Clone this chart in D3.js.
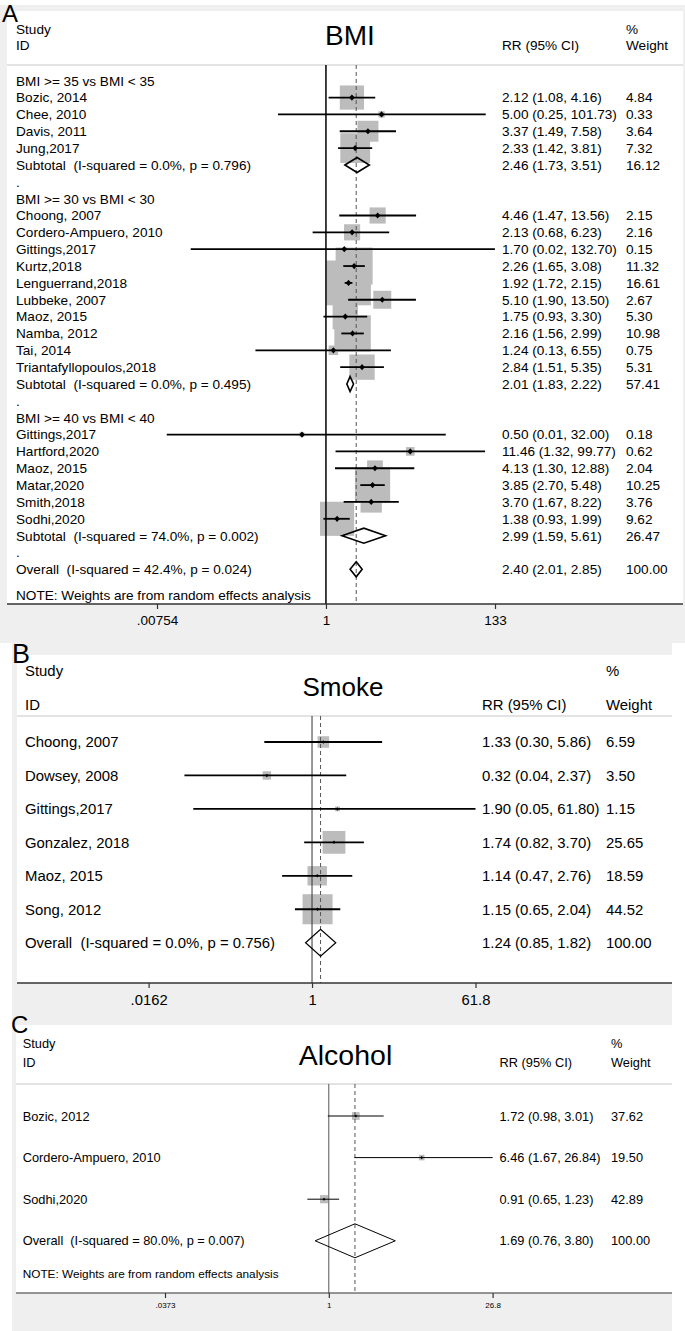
<!DOCTYPE html>
<html><head><meta charset="utf-8">
<script src="https://cdn.jsdelivr.net/npm/d3@7"></script>
<style>body{margin:0;background:#fff}svg{display:block}text{font-family:"Liberation Sans",Arial,Helvetica,sans-serif;fill:#000}</style>
</head><body><svg id="chart" width="685" height="1331"></svg>
<script>
// ---------- Panel A: BMI ----------
const bmiLabels = ["BMI >= 35 vs BMI < 35","Bozic, 2014","Chee, 2010","Davis, 2011","Jung,2017","Subtotal  (I-squared = 0.0%, p = 0.796)",".",
  "BMI >= 30 vs BMI < 30","Choong, 2007","Cordero-Ampuero, 2010","Gittings,2017","Kurtz,2018","Lenguerrand,2018","Lubbeke, 2007","Maoz, 2015","Namba, 2012","Tai, 2014","Triantafyllopoulos,2018","Subtotal  (I-squared = 0.0%, p = 0.495)",".",
  "BMI >= 40 vs BMI < 40","Gittings,2017","Hartford,2020","Maoz, 2015","Matar,2020","Smith,2018","Sodhi,2020","Subtotal  (I-squared = 74.0%, p = 0.002)",".",
  "Overall  (I-squared = 42.4%, p = 0.024)"];
const bmiTypes = ["head","study","study","study","study","sub","blank",
  "head","study","study","study","study","study","study","study","study","study","study","sub","blank",
  "head","study","study","study","study","study","study","sub","blank","overall"];
const bmiRR    = [null,2.12,5.00,3.37,2.33,2.46,null, null,4.46,2.13,1.70,2.26,1.92,5.10,1.75,2.16,1.24,2.84,2.01,null, null,0.50,11.46,4.13,3.85,3.70,1.38,2.99,null,2.40];
const bmiLower = [null,1.08,0.25,1.49,1.42,1.73,null, null,1.47,0.68,0.02,1.65,1.72,1.90,0.93,1.56,0.13,1.51,1.83,null, null,0.01,1.32,1.30,2.70,1.67,0.93,1.59,null,2.01];
const bmiUpper = [null,4.16,101.73,7.58,3.81,3.51,null, null,13.56,6.23,132.70,3.08,2.15,13.50,3.30,2.99,6.55,5.35,2.22,null, null,32.00,99.77,12.88,5.48,8.22,1.99,5.61,null,2.85];
const bmiWeights=[null,4.84,0.33,3.64,7.32,16.12,null, null,2.15,2.16,0.15,11.32,16.61,2.67,5.30,10.98,0.75,5.31,57.41,null, null,0.18,0.62,2.04,10.25,3.76,9.62,26.47,null,100.00];
const bmiTicks = [0.00754, 1, 133];
const bmiTickLabels = [".00754", "1", "133"];

// ---------- Panel B: Smoke ----------
const smokeLabels = ["Choong, 2007","Dowsey, 2008","Gittings,2017","Gonzalez, 2018","Maoz, 2015","Song, 2012","Overall  (I-squared = 0.0%, p = 0.756)"];
const smokeTypes  = ["study","study","study","study","study","study","overall"];
const smokeRR     = [1.33,0.32,1.90,1.74,1.14,1.15,1.24];
const smokeLower  = [0.30,0.04,0.05,0.82,0.47,0.65,0.85];
const smokeUpper  = [5.86,2.37,61.80,3.70,2.76,2.04,1.82];
const smokeWeights= [6.59,3.50,1.15,25.65,18.59,44.52,100.00];
const smokeTicks = [0.0162, 1, 61.8];
const smokeTickLabels = [".0162", "1", "61.8"];

// ---------- Panel C: Alcohol ----------
const alcLabels = ["Bozic, 2012","Cordero-Ampuero, 2010","Sodhi,2020","Overall  (I-squared = 80.0%, p = 0.007)"];
const alcTypes  = ["study","study","study","overall"];
const alcRR     = [1.72,6.46,0.91,1.69];
const alcLower  = [0.98,1.67,0.65,0.76];
const alcUpper  = [3.01,26.84,1.23,3.80];
const alcWeights= [37.62,19.50,42.89,100.00];
const alcTicks = [0.0373, 1, 26.8];
const alcTickLabels = [".0373", "1", "26.8"];

const noteText = "NOTE: Weights are from random effects analysis";
const f2 = d3.format(".2f");
const svg = d3.select("#chart");

function drawPanel(c) {
  const g = svg.append("g");
  const L = c.L;
  g.append("rect").attr("x", L.gray[0]).attr("y", L.gray[1]).attr("width", L.gray[2]-L.gray[0]).attr("height", L.gray[3]-L.gray[1]).attr("fill", "#efefef");
  g.append("rect").attr("x", L.white[0]).attr("y", L.white[1]).attr("width", L.white[2]-L.white[0]).attr("height", L.axisY-L.white[1]).attr("fill", "#fff");
  const x = d3.scaleLog().domain(c.domain).range(L.range);
  const fs = L.fs, off = fs*0.36;
  g.append("text").attr("x", L.textX).attr("y", L.h1+off).attr("font-size", fs).text("Study");
  g.append("text").attr("x", L.textX).attr("y", L.h2+off).attr("font-size", fs).text("ID");
  g.append("text").attr("x", L.rrX).attr("y", L.h2+off).attr("font-size", fs).text("RR (95% CI)");
  g.append("text").attr("x", L.wX).attr("y", L.h1+off).attr("font-size", fs).text("%");
  g.append("text").attr("x", L.wX).attr("y", L.h2+off).attr("font-size", fs).text("Weight");
  g.append("text").attr("x", L.titleX).attr("y", L.titleY + L.titleSize*0.36).attr("font-size", L.titleSize).attr("text-anchor","middle").text(c.title);
  g.append("line").attr("x1", L.white[0]).attr("x2", L.white[2]).attr("y1", L.sepY).attr("y2", L.sepY).attr("stroke", "#c8c8c8").attr("stroke-width", 1.2);
  svg.append("text").attr("x", L.letter[0]).attr("y", L.letter[1]).attr("font-size", L.letterSize).text(c.letter);

  const rows = c.labels.map((lab, i) => ({lab, type: c.types[i], rr: c.rr[i], lo: c.lo[i], hi: c.hi[i], w: c.w[i], y: L.row0 + i*L.step}));
  g.selectAll(".box").data(rows.filter(r => r.type === "study")).join("rect")
    .attr("x", r => x(r.rr) - L.boxK*Math.sqrt(r.w)/2)
    .attr("y", r => r.y - L.boxK*Math.sqrt(r.w)/2)
    .attr("width", r => L.boxK*Math.sqrt(r.w))
    .attr("height", r => L.boxK*Math.sqrt(r.w))
    .attr("fill", "#bcbcbc");
  const ov = rows.find(r => r.type === "overall");
  g.append("line").attr("x1", x(1)).attr("x2", x(1)).attr("y1", L.sepY).attr("y2", L.axisY).attr("stroke", L.nullColor).attr("stroke-width", L.nullW);
  g.append("line").attr("x1", x(ov.rr)).attr("x2", x(ov.rr)).attr("y1", L.sepY).attr("y2", L.axisY).attr("stroke", "#555").attr("stroke-width", 1).attr("stroke-dasharray", "4,3");
  g.selectAll(".ci").data(rows.filter(r => r.type === "study")).join("line")
    .attr("x1", r => x(r.lo)).attr("x2", r => x(r.hi)).attr("y1", r => r.y).attr("y2", r => r.y)
    .attr("stroke", "#000").attr("stroke-width", L.ciW);
  g.selectAll(".pt").data(rows.filter(r => r.type === "study")).join("path")
    .attr("d", r => { const m = L.mk, px = x(r.rr), py = r.y; return `M${px-m},${py}L${px},${py-m*1.1}L${px+m},${py}L${px},${py+m*1.1}Z`; })
    .attr("fill", "#000");
  g.selectAll(".dia").data(rows.filter(r => r.type === "sub" || r.type === "overall")).join("path")
    .attr("d", r => `M${x(r.lo)},${r.y}L${x(r.rr)},${r.y-L.diaH}L${x(r.hi)},${r.y}L${x(r.rr)},${r.y+L.diaH}Z`)
    .attr("fill", "none").attr("stroke", "#000").attr("stroke-width", L.diaW);
  g.selectAll(".lab").data(rows).join("text")
    .attr("x", L.textX).attr("y", r => r.y + off).attr("font-size", fs)
    .style("white-space", "pre").text(r => r.lab);
  const valRows = rows.filter(r => r.rr != null);
  g.selectAll(".rr").data(valRows).join("text")
    .attr("x", L.rrX).attr("y", r => r.y + off).attr("font-size", fs)
    .text(r => `${f2(r.rr)} (${f2(r.lo)}, ${f2(r.hi)})`);
  g.selectAll(".wt").data(valRows).join("text")
    .attr("x", L.wX).attr("y", r => r.y + off).attr("font-size", fs)
    .text(r => f2(r.w));
  if (c.note) {
    g.append("text").attr("x", L.textX).attr("y", L.noteY + L.noteSize*0.36).attr("font-size", L.noteSize).text(c.note);
  }
  g.append("line").attr("x1", L.white[0]).attr("x2", L.white[2]).attr("y1", L.axisY).attr("y2", L.axisY).attr("stroke", "#333").attr("stroke-width", L.axisW);
  const ax = g.append("g").attr("transform", `translate(0,${L.axisY})`)
    .call(d3.axisBottom(x).tickValues(c.ticks).tickFormat((d, i) => c.tickLabels[i]).tickSize(L.tickLen).tickPadding(L.tickPad));
  ax.select(".domain").remove();
  ax.selectAll(".tick line").attr("stroke", "#333").attr("stroke-width", 1.2);
  ax.selectAll(".tick text").attr("font-size", L.tickSize).attr("fill", "#000")
    .style("font-family", '"Liberation Sans",Arial,sans-serif');
}

drawPanel({
  title: "BMI", letter: "A", note: noteText,
  labels: bmiLabels, types: bmiTypes, rr: bmiRR, lo: bmiLower, hi: bmiUpper, w: bmiWeights,
  ticks: bmiTicks, tickLabels: bmiTickLabels, domain: [0.00754, 133],
  L: {gray: [0, 5, 685, 643], white: [7, 11, 683], axisY: 604, range: [157, 495],
      letter: [2, 22], letterSize: 24, fs: 13.6, textX: 16, rrX: 502, wX: 626,
      h1: 29.5, h2: 45.5, titleX: 350, titleY: 35, titleSize: 28, sepY: 65,
      row0: 80.7, step: 16.85, noteY: 595, noteSize: 13.6,
      boxK: 11, ciW: 1.8, mk: 2.8, diaH: 7.5, diaW: 1.6, nullW: 1.5, nullColor: "#000",
      axisW: 1.5, tickLen: 5, tickPad: 6, tickSize: 13.5}
});

drawPanel({
  title: "Smoke", letter: "B", note: null,
  labels: smokeLabels, types: smokeTypes, rr: smokeRR, lo: smokeLower, hi: smokeUpper, w: smokeWeights,
  ticks: smokeTicks, tickLabels: smokeTickLabels, domain: [0.0162, 61.8],
  L: {gray: [12, 643, 672, 1025], white: [17, 655, 672], axisY: 983, range: [148.6, 475.5],
      letter: [12, 663], letterSize: 27, fs: 14.9, textX: 25, rrX: 482, wX: 606,
      h1: 671, h2: 705, titleX: 343, titleY: 687, titleSize: 26, sepY: 716,
      row0: 742, step: 33.45, noteY: 0, noteSize: 14,
      boxK: 4.5, ciW: 1.8, mk: 1.6, diaH: 13.5, diaW: 1.2, nullW: 1, nullColor: "#333",
      axisW: 1.3, tickLen: 5, tickPad: 6, tickSize: 14.8}
});

drawPanel({
  title: "Alcohol", letter: "C", note: noteText,
  labels: alcLabels, types: alcTypes, rr: alcRR, lo: alcLower, hi: alcUpper, w: alcWeights,
  ticks: alcTicks, tickLabels: alcTickLabels, domain: [0.0373, 26.8],
  L: {gray: [12, 1025, 672, 1331], white: [16, 1025, 672], axisY: 1293, range: [165, 492.6],
      letter: [11, 1033], letterSize: 24, fs: 12.8, textX: 22.7, rrX: 499.5, wX: 611,
      h1: 1043, h2: 1062, titleX: 345.5, titleY: 1055, titleSize: 28.5, sepY: 1084,
      row0: 1116, step: 41.6, noteY: 1274, noteSize: 11.8,
      boxK: 1.25, ciW: 1, mk: 1.4, diaH: 17, diaW: 1, nullW: 1, nullColor: "#555",
      axisW: 1.2, tickLen: 5, tickPad: 4, tickSize: 8}
});
</script></body></html>
